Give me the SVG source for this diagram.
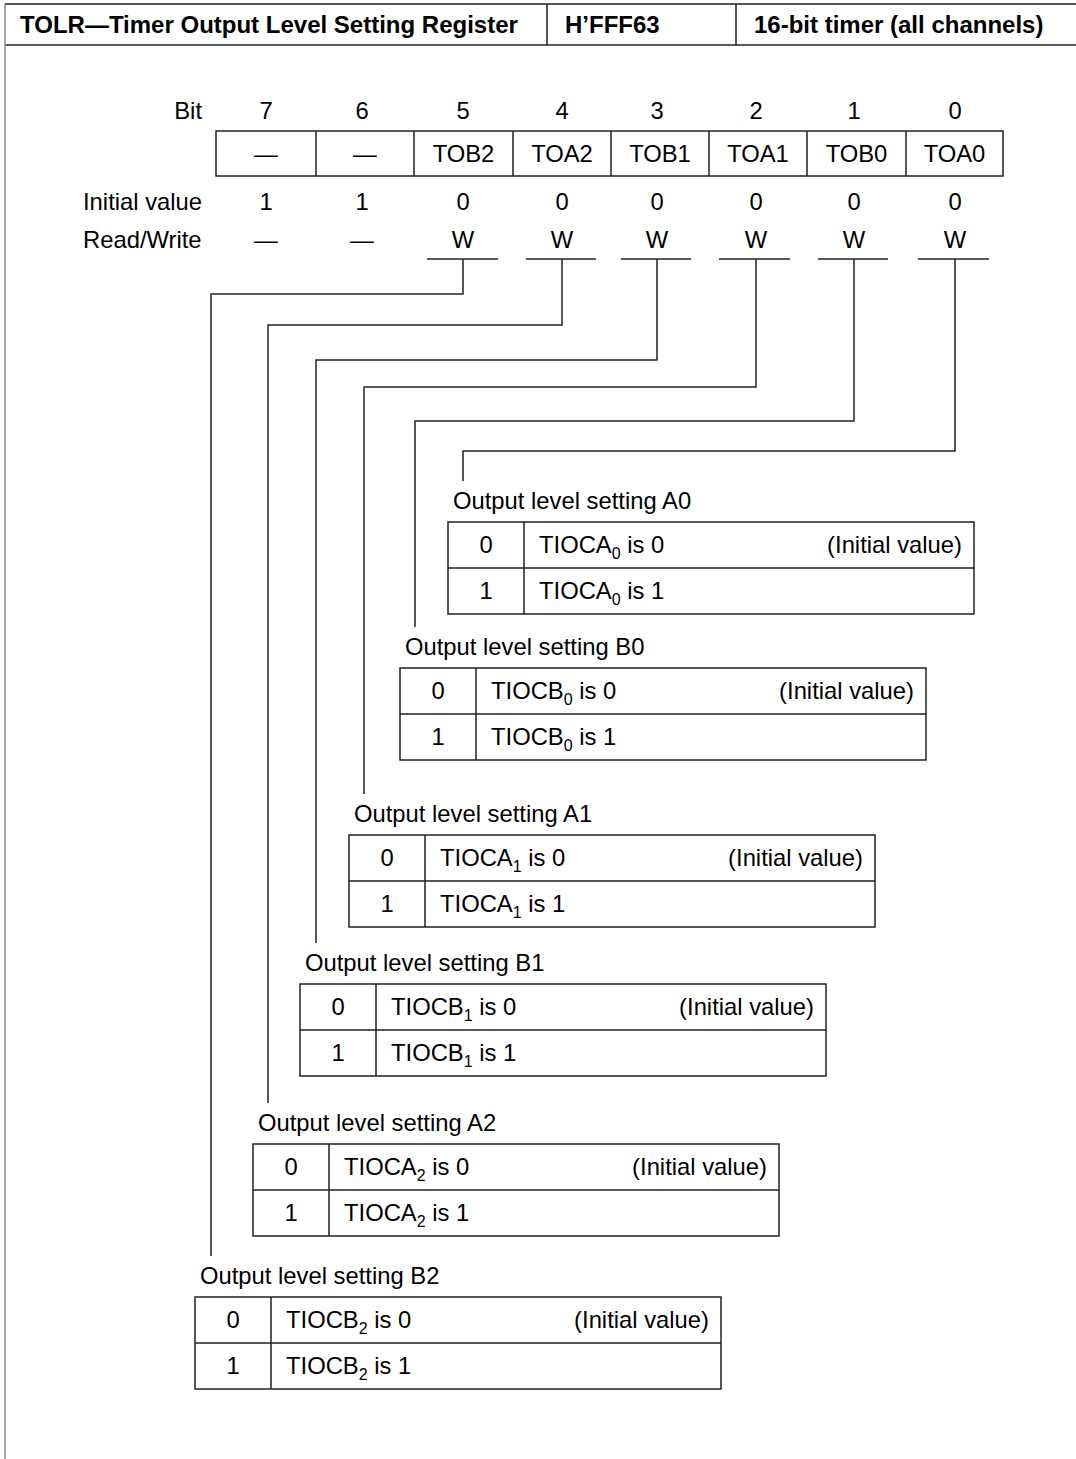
<svg xmlns="http://www.w3.org/2000/svg" width="1076" height="1459" viewBox="0 0 1076 1459">
<style>
.t{font-family:"Liberation Sans",Arial,Helvetica,sans-serif;font-size:23.8px;fill:#000}
.c{text-anchor:middle}
.e{text-anchor:end}
.h{font-family:"Liberation Sans",Arial,Helvetica,sans-serif;font-size:24px;font-weight:bold;fill:#000}
.ln{stroke:#222;stroke-width:1.5;fill:none}
.bx{stroke:#222;stroke-width:1.5;fill:#fff}
.sub{font-size:16px}
</style>
<rect x="0" y="0" width="1076" height="1459" fill="#fff"/>
<g id="frame">
<line x1="5" y1="4" x2="1076" y2="4" class="ln"/>
<line x1="5" y1="45" x2="1076" y2="45" class="ln"/>
<line x1="5" y1="4" x2="5" y2="1459" stroke="#888" stroke-width="1.5"/>
<line x1="547" y1="4" x2="547" y2="45" class="ln"/>
<line x1="736" y1="4" x2="736" y2="45" class="ln"/>
<text x="20" y="33" class="h">TOLR—Timer Output Level Setting Register</text>
<text x="565" y="33" class="h">H’FFF63</text>
<text x="754" y="33" class="h">16-bit timer (all channels)</text>
</g>
<g id="register">
<text x="202" y="119" class="t e">Bit</text>
<text x="266" y="119" class="t c">7</text>
<text x="362" y="119" class="t c">6</text>
<text x="463" y="119" class="t c">5</text>
<text x="562" y="119" class="t c">4</text>
<text x="657" y="119" class="t c">3</text>
<text x="756" y="119" class="t c">2</text>
<text x="854" y="119" class="t c">1</text>
<text x="955" y="119" class="t c">0</text>
<rect x="216" y="131" width="787" height="45" class="bx"/>
<path class="ln" d="M316 131V176M414 131V176M513 131V176M611 131V176M709 131V176M807 131V176M906 131V176"/>
<text x="266" y="162" class="t c">—</text>
<text x="365" y="162" class="t c">—</text>
<text x="463.5" y="162" class="t c">TOB2</text>
<text x="562" y="162" class="t c">TOA2</text>
<text x="660" y="162" class="t c">TOB1</text>
<text x="758" y="162" class="t c">TOA1</text>
<text x="856.5" y="162" class="t c">TOB0</text>
<text x="954.5" y="162" class="t c">TOA0</text>
<text x="83" y="210" class="t">Initial value</text>
<text x="266" y="210" class="t c">1</text>
<text x="362" y="210" class="t c">1</text>
<text x="463" y="210" class="t c">0</text>
<text x="562" y="210" class="t c">0</text>
<text x="657" y="210" class="t c">0</text>
<text x="756" y="210" class="t c">0</text>
<text x="854" y="210" class="t c">0</text>
<text x="955" y="210" class="t c">0</text>
<text x="83" y="248" class="t">Read/Write</text>
<text x="266" y="248" class="t c">—</text>
<text x="362" y="248" class="t c">—</text>
<text x="463" y="248" class="t c">W</text>
<text x="562" y="248" class="t c">W</text>
<text x="657" y="248" class="t c">W</text>
<text x="756" y="248" class="t c">W</text>
<text x="854" y="248" class="t c">W</text>
<text x="955" y="248" class="t c">W</text>
</g>
<g id="connectors" class="ln">
<path d="M427 259H498M526 259H596M621 259H691M719 259H790M818 259H888M918 259H989"/>
<path d="M463 259V294H211V1256"/>
<path d="M562 259V325H268V1103"/>
<path d="M657 259V360H316V943"/>
<path d="M756 259V387H364V794"/>
<path d="M854 259V421H415V627"/>
<path d="M955 259V451H463V481"/>
</g>
<g id="setA0">
<text x="453" y="509" class="t">Output level setting A0</text>
<rect x="448" y="522" width="526" height="92" class="bx"/>
<path class="ln" d="M448 568H974M524 522V614"/>
<text x="486" y="553" class="t c">0</text>
<text x="539" y="553" class="t">TIOCA<tspan class="sub" dy="6">0</tspan><tspan dy="-6"> is 0</tspan></text>
<text x="962" y="553" class="t e">(Initial value)</text>
<text x="486" y="599" class="t c">1</text>
<text x="539" y="599" class="t">TIOCA<tspan class="sub" dy="6">0</tspan><tspan dy="-6"> is 1</tspan></text>
</g>
<g id="setB0">
<text x="405" y="655" class="t">Output level setting B0</text>
<rect x="400" y="668" width="526" height="92" class="bx"/>
<path class="ln" d="M400 714H926M476 668V760"/>
<text x="438" y="699" class="t c">0</text>
<text x="491" y="699" class="t">TIOCB<tspan class="sub" dy="6">0</tspan><tspan dy="-6"> is 0</tspan></text>
<text x="914" y="699" class="t e">(Initial value)</text>
<text x="438" y="745" class="t c">1</text>
<text x="491" y="745" class="t">TIOCB<tspan class="sub" dy="6">0</tspan><tspan dy="-6"> is 1</tspan></text>
</g>
<g id="setA1">
<text x="354" y="822" class="t">Output level setting A1</text>
<rect x="349" y="835" width="526" height="92" class="bx"/>
<path class="ln" d="M349 881H875M425 835V927"/>
<text x="387" y="866" class="t c">0</text>
<text x="440" y="866" class="t">TIOCA<tspan class="sub" dy="6">1</tspan><tspan dy="-6"> is 0</tspan></text>
<text x="863" y="866" class="t e">(Initial value)</text>
<text x="387" y="912" class="t c">1</text>
<text x="440" y="912" class="t">TIOCA<tspan class="sub" dy="6">1</tspan><tspan dy="-6"> is 1</tspan></text>
</g>
<g id="setB1">
<text x="305" y="971" class="t">Output level setting B1</text>
<rect x="300" y="984" width="526" height="92" class="bx"/>
<path class="ln" d="M300 1030H826M376 984V1076"/>
<text x="338" y="1015" class="t c">0</text>
<text x="391" y="1015" class="t">TIOCB<tspan class="sub" dy="6">1</tspan><tspan dy="-6"> is 0</tspan></text>
<text x="814" y="1015" class="t e">(Initial value)</text>
<text x="338" y="1061" class="t c">1</text>
<text x="391" y="1061" class="t">TIOCB<tspan class="sub" dy="6">1</tspan><tspan dy="-6"> is 1</tspan></text>
</g>
<g id="setA2">
<text x="258" y="1131" class="t">Output level setting A2</text>
<rect x="253" y="1144" width="526" height="92" class="bx"/>
<path class="ln" d="M253 1190H779M329 1144V1236"/>
<text x="291" y="1175" class="t c">0</text>
<text x="344" y="1175" class="t">TIOCA<tspan class="sub" dy="6">2</tspan><tspan dy="-6"> is 0</tspan></text>
<text x="767" y="1175" class="t e">(Initial value)</text>
<text x="291" y="1221" class="t c">1</text>
<text x="344" y="1221" class="t">TIOCA<tspan class="sub" dy="6">2</tspan><tspan dy="-6"> is 1</tspan></text>
</g>
<g id="setB2">
<text x="200" y="1284" class="t">Output level setting B2</text>
<rect x="195" y="1297" width="526" height="92" class="bx"/>
<path class="ln" d="M195 1343H721M271 1297V1389"/>
<text x="233" y="1328" class="t c">0</text>
<text x="286" y="1328" class="t">TIOCB<tspan class="sub" dy="6">2</tspan><tspan dy="-6"> is 0</tspan></text>
<text x="709" y="1328" class="t e">(Initial value)</text>
<text x="233" y="1374" class="t c">1</text>
<text x="286" y="1374" class="t">TIOCB<tspan class="sub" dy="6">2</tspan><tspan dy="-6"> is 1</tspan></text>
</g>
</svg>
